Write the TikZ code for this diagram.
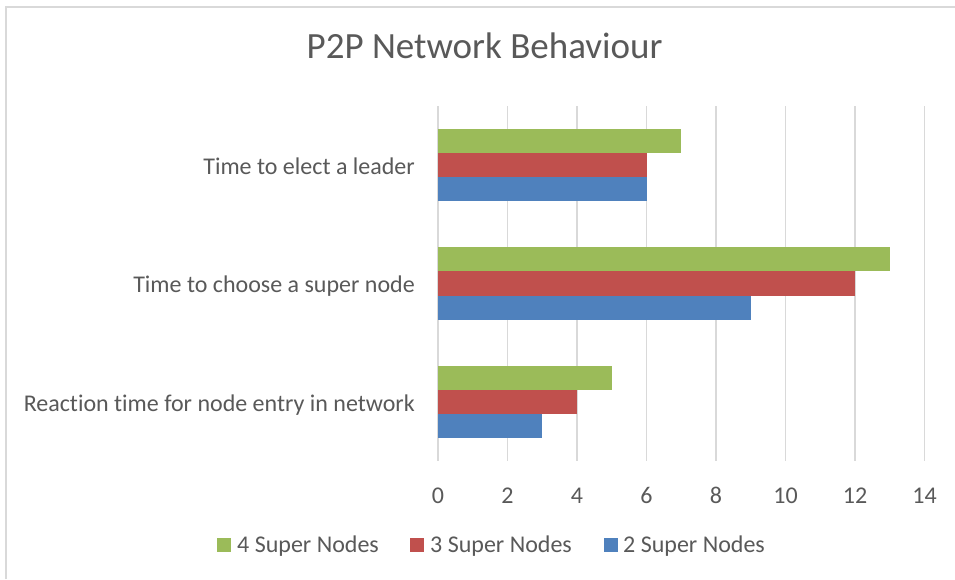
\documentclass[tikz,border=0pt]{standalone}
\usepackage{fontspec}
\setmainfont{Carlito}[Ligatures={NoCommon,NoContextual}]
\definecolor{txtgrey}{HTML}{595959}
\definecolor{gridgrey}{HTML}{D9D9D9}
\definecolor{sngreen}{HTML}{9BBB59}
\definecolor{snred}{HTML}{C0504D}
\definecolor{snblue}{HTML}{4F81BD}
\begin{document}
\begin{tikzpicture}[x=1pt,y=-1pt,
  txt/.style={text=txtgrey,inner sep=0pt,font=\fontsize{24}{28}\selectfont},
  catlabel/.style={txt,anchor=base east},
  ticklabel/.style={txt,anchor=base},
  legtext/.style={txt,anchor=base west},
  gridline/.style={draw=gridgrey,line width=1.4pt},
  legbox/.style={minimum size=14pt,inner sep=0pt,anchor=north west}]
\useasboundingbox (0,0) rectangle (955,579);
\fill[white] (0,0) rectangle (955,579);
% chart frame
\draw[gridgrey,line width=1.4pt] (6,579) -- (6,7) -- (955,7);
% title
\node[txt,anchor=base,font=\fontsize{37}{44}\selectfont] (title) at (484.5,58) {P2P Network Behaviour};
% vertical grid lines and value axis labels
\foreach \v [count=\k from 0] in {0,2,...,14}{
  \draw[gridline] (438+\k*69.5,106) -- (438+\k*69.5,461);
  \node[ticklabel] (tick\k) at (438+\k*69.5,503) {\v};
}
% bars: value scale 34.75 per unit, bar thickness 24.3
\newcommand{\valuebar}[3]{\fill[#1] (438,#2) rectangle (438+#3*34.75,#2+24.3);}
% Time to elect a leader
\valuebar{sngreen}{128.5}{7}
\valuebar{snred}{152.8}{6}
\valuebar{snblue}{177.1}{6}
% Time to choose a super node
\valuebar{sngreen}{247}{13}
\valuebar{snred}{271.3}{12}
\valuebar{snblue}{295.6}{9}
% Reaction time for node entry in network
\valuebar{sngreen}{365.5}{5}
\valuebar{snred}{389.8}{4}
\valuebar{snblue}{414.1}{3}
% category labels
\node[catlabel] (cat1) at (415,174) {Time to elect a leader};
\node[catlabel] (cat2) at (415,292) {Time to choose a super node};
\node[catlabel] (cat3) at (415,411) {Reaction time for node entry in network};
% legend
\node[legbox,fill=sngreen] (lg4) at (217,538) {};
\node[legtext] (lt4) at (237,552) {4 Super Nodes};
\node[legbox,fill=snred] (lg3) at (410,538) {};
\node[legtext] (lt3) at (430,552) {3 Super Nodes};
\node[legbox,fill=snblue] (lg2) at (604,538) {};
\node[legtext] (lt2) at (623,552) {2 Super Nodes};
\end{tikzpicture}
\end{document}
